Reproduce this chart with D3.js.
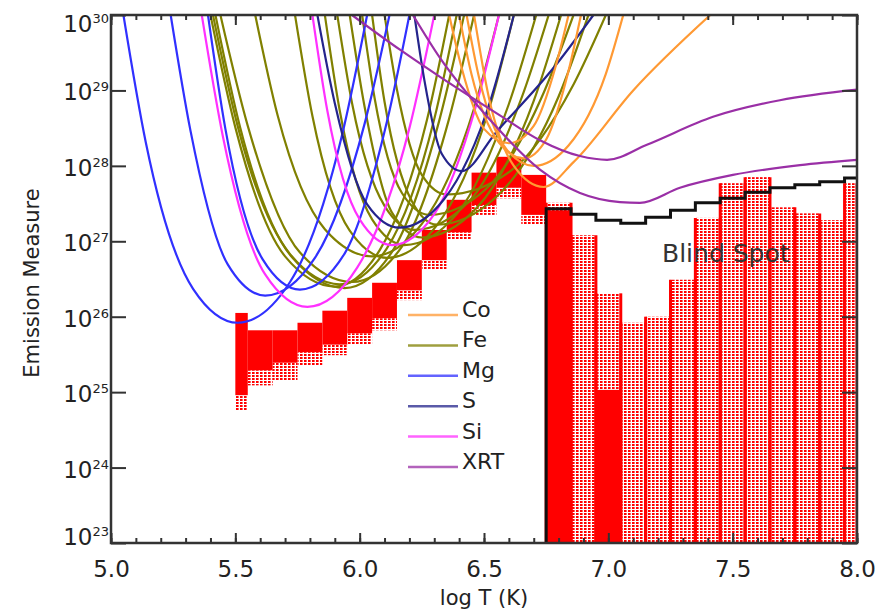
<!DOCTYPE html>
<html>
<head>
<meta charset="utf-8">
<script src="https://cdn.jsdelivr.net/npm/d3@7/dist/d3.min.js"></script>
<style>
  body { margin: 0; background: #fff; }
  text { font-family: "DejaVu Sans", sans-serif; fill: #222; }
</style>
</head>
<body>
<div id="chart"></div>
<script>
// EM loci curves, points are [log T, log EM].
const coCurves = [
  [[6.36,30],[6.41,29.30],[6.50,28.49],[6.60,28.30],[6.70,28.53],[6.79,29.34],[6.84,30]],
  [[6.40,30],[6.45,29.21],[6.56,28.31],[6.66,28.10],[6.75,28.35],[6.84,29.26],[6.89,30]],
  [[6.43,30],[6.48,29.17],[6.59,28.22],[6.70,28.00],[6.84,28.27],[6.99,29.22],[7.06,30]],
  [[6.46,30],[6.52,28.90],[6.62,28.00],[6.74,27.72],[6.86,28.05],[7.10,29.00],[7.41,30]]
];
const feCurves = [
  [[5.40,30],[5.50,28.51],[5.70,26.80],[5.90,26.40],[6.08,26.88],[6.27,28.60],[6.36,30]],
  [[5.41,30],[5.51,28.52],[5.72,26.83],[5.92,26.43],[6.11,26.91],[6.30,28.62],[6.39,30]],
  [[5.42,30],[5.52,28.50],[5.73,26.78],[5.94,26.38],[6.13,26.86],[6.32,28.60],[6.42,30]],
  [[5.44,30],[5.55,28.53],[5.76,26.85],[5.97,26.46],[6.17,26.93],[6.36,28.63],[6.46,30]],
  [[5.58,30],[5.67,28.67],[5.86,27.16],[6.05,26.80],[6.25,27.23],[6.46,28.76],[6.56,30]],
  [[5.74,30],[5.81,28.66],[5.96,27.14],[6.11,26.78],[6.31,27.21],[6.52,28.75],[6.62,30]],
  [[5.86,30],[5.92,28.73],[6.05,27.29],[6.18,26.95],[6.39,27.36],[6.60,28.82],[6.71,30]],
  [[5.91,30],[5.97,28.82],[6.10,27.47],[6.22,27.15],[6.44,27.53],[6.65,28.89],[6.76,30]],
  [[5.96,30],[6.02,28.78],[6.13,27.38],[6.25,27.05],[6.47,27.44],[6.70,28.86],[6.81,30]],
  [[6.01,30],[6.06,28.90],[6.17,27.64],[6.28,27.35],[6.51,27.70],[6.74,28.97],[6.86,30]],
  [[6.05,30],[6.10,28.85],[6.21,27.53],[6.31,27.22],[6.55,27.59],[6.80,28.92],[6.92,30]],
  [[6.10,30],[6.15,29.01],[6.25,27.88],[6.35,27.62],[6.61,27.94],[6.86,29.08],[6.99,30]]
];
const mgCurves = [
  [[5.05,30],[5.14,28.31],[5.33,26.37],[5.51,25.92],[5.72,26.46],[5.93,28.42],[6.03,30]],
  [[5.24,30],[5.32,28.46],[5.47,26.69],[5.62,26.28],[5.82,26.78],[6.02,28.56],[6.12,30]],
  [[5.39,30],[5.46,28.49],[5.61,26.76],[5.76,26.36],[5.94,26.84],[6.11,28.59],[6.20,30]]
];
const sCurves = [
  [[5.83,30],[5.90,28.83],[6.03,27.49],[6.16,27.18],[6.34,27.56],[6.53,28.91],[6.62,30]],
  [[6.22,30],[6.26,29.14],[6.33,28.16],[6.41,27.93],[6.55,28.45],[6.78,29.30],[6.94,30]]
];
const siCurves = [
  [[5.365,30],[5.45,28.39],[5.62,26.56],[5.79,26.13],[5.99,26.65],[6.20,28.50],[6.30,30]],
  [[5.81,30],[5.87,28.73],[6.00,27.29],[6.13,26.95],[6.30,27.36],[6.47,28.82],[6.56,30]]
];
const xrtCurves = [
  [[5.969,30],[6.162,29.54],[6.323,29.18],[6.564,28.67],[6.725,28.34],[6.886,28.13],[6.995,28.08],[7.155,28.28],[7.421,28.65],[7.69,28.87],[8.0,29.01]],
  [[6.214,30],[6.323,29.43],[6.524,28.61],[6.725,27.95],[6.886,27.64],[7.047,27.52],[7.127,27.51],[7.288,27.71],[7.501,27.88],[7.771,28.01],[8.0,28.08]]
];

const legendNames = ['Co', 'Fe', 'Mg', 'S', 'Si', 'XRT'];
const legendColors = ['#ff9933', '#808000', '#3030ff', '#24248c', '#ff30ff', '#9a2fa6'];

// DEM solutions below the blind spot: [logT lo, logT hi, top, bottom, dotted bottom]
const demBins = [
  [5.50, 5.55, 26.05, 24.96, 24.76],
  [5.55, 5.65, 25.82, 25.29, 25.09],
  [5.65, 5.75, 25.82, 25.39, 25.16],
  [5.75, 5.85, 25.92, 25.53, 25.36],
  [5.85, 5.95, 26.08, 25.63, 25.49],
  [5.95, 6.05, 26.25, 25.78, 25.63],
  [6.05, 6.15, 26.45, 25.98, 25.82],
  [6.15, 6.25, 26.75, 26.35, 26.22],
  [6.25, 6.35, 27.15, 26.75, 26.62],
  [6.35, 6.45, 27.55, 27.12, 27.02],
  [6.45, 6.55, 27.91, 27.48, 27.35],
  [6.55, 6.65, 28.12, 27.71, 27.57],
  [6.65, 6.75, 27.88, 27.35, 27.22]
];
// DEM solutions in the blind spot: [logT lo, logT hi, top, solid top or null]
const blindBins = [
  [6.75, 6.85, 27.51, 27.41],
  [6.85, 6.95, 27.08, null],
  [6.95, 7.05, 26.31, 25.03],
  [7.05, 7.15, 25.92, null],
  [7.15, 7.25, 26.00, null],
  [7.25, 7.35, 26.49, null],
  [7.35, 7.45, 27.31, null],
  [7.45, 7.55, 27.77, null],
  [7.55, 7.65, 27.85, null],
  [7.65, 7.75, 27.45, null],
  [7.75, 7.85, 27.37, null],
  [7.85, 7.95, 27.28, null],
  [7.95, 8.00, 27.77, null]
];
// Blind spot limit (step line)
const limitT = [6.75, 6.85, 6.95, 7.05, 7.15, 7.25, 7.35, 7.45, 7.55, 7.65, 7.75, 7.85, 7.95];
const limitEM = [27.43, 27.36, 27.28, 27.24, 27.32, 27.41, 27.51, 27.57, 27.65, 27.71, 27.75, 27.79, 27.84];

const xMajor = [5.0, 5.5, 6.0, 6.5, 7.0, 7.5, 8.0];
const yExps = [23, 24, 25, 26, 27, 28, 29, 30];

const W = 887, H = 612;
const pLeft = 111, pRight = 857, pTop = 15, pBottom = 543;

const svg = d3.select('#chart').append('svg')
    .attr('width', W)
    .attr('height', H);

const x = d3.scaleLinear().domain([5, 8]).range([pLeft, pRight]);
const y = d3.scaleLog().domain([1e23, 1e30]).range([pBottom, pTop]);
const Y = em => y(Math.pow(10, em));

const defs = svg.append('defs');
defs.append('clipPath').attr('id', 'plot')
    .append('rect')
        .attr('x', pLeft).attr('y', pTop)
        .attr('width', pRight - pLeft).attr('height', pBottom - pTop);
// Dotted red fill imitating the overplotted dotted DEM solutions.
const pat = defs.append('pattern')
    .attr('id', 'dots')
    .attr('width', 4).attr('height', 3)
    .attr('patternUnits', 'userSpaceOnUse');
pat.append('rect').attr('width', 2.6).attr('height', 2).attr('fill', '#ff0000');

const plot = svg.append('g').attr('clip-path', 'url(#plot)');

// Red DEM solutions, low temperatures.
const red = plot.append('g');
demBins.forEach(b => {
    red.append('rect')
        .attr('x', x(b[0])).attr('width', x(b[1]) - x(b[0]))
        .attr('y', Y(b[3])).attr('height', Y(b[4]) - Y(b[3]))
        .attr('fill', 'url(#dots)');
    red.append('rect')
        .attr('x', x(b[0])).attr('width', x(b[1]) - x(b[0]))
        .attr('y', Y(b[2])).attr('height', Y(b[3]) - Y(b[2]))
        .attr('fill', '#ff0000');
});

// Red DEM solutions in the blind spot.
blindBins.forEach(b => {
    red.append('rect')
        .attr('x', x(b[0])).attr('width', x(b[1]) - x(b[0]))
        .attr('y', Y(b[2])).attr('height', pBottom - Y(b[2]))
        .attr('fill', 'url(#dots)');
    if (b[3] !== null) {
        red.append('rect')
            .attr('x', x(b[0])).attr('width', x(b[1]) - x(b[0]))
            .attr('y', Y(b[3])).attr('height', pBottom - Y(b[3]))
            .attr('fill', '#ff0000');
    }
    [b[0], b[1]].forEach(t => {
        red.append('line')
            .attr('x1', x(t)).attr('x2', x(t))
            .attr('y1', Y(b[2])).attr('y2', pBottom)
            .attr('stroke', '#ff0000')
            .attr('stroke-width', 3);
    });
});

// EM loci curves.
const line = d3.line()
    .x(d => x(d[0]))
    .y(d => Y(d[1]))
    .curve(d3.curveMonotoneX);

const groups = [
    [feCurves, legendColors[1]],
    [mgCurves, legendColors[2]],
    [siCurves, legendColors[4]],
    [sCurves, legendColors[3]],
    [coCurves, legendColors[0]],
    [xrtCurves, legendColors[5]]
];
groups.forEach(([curves, color]) => {
    plot.append('g')
      .selectAll('path')
      .data(curves)
      .enter()
      .append('path')
        .attr('d', line)
        .attr('fill', 'none')
        .attr('stroke', color)
        .attr('stroke-width', 2.2);
});

// Blind spot limit.
const limitPts = [[6.75, 23]].concat(limitT.map((t, i) => [t, limitEM[i]]), [[8.0, limitEM[limitEM.length - 1]]]);
plot.append('path')
    .datum(limitPts)
    .attr('d', d3.line().x(d => x(d[0])).y(d => Y(d[1])).curve(d3.curveStepAfter))
    .attr('fill', 'none')
    .attr('stroke', '#111')
    .attr('stroke-width', 3);

svg.append('text')
    .attr('x', 662).attr('y', 262)
    .style('font-size', '25px')
    .style('fill', '#333')
    .text('Blind Spot');

// Legend.
const legend = svg.append('g');
legendNames.forEach((name, i) => {
    const ly = 315 + i * 30.4;
    legend.append('line')
        .attr('x1', 408).attr('x2', 458)
        .attr('y1', ly).attr('y2', ly)
        .attr('stroke', legendColors[i])
        .attr('stroke-width', 2.5)
        .attr('opacity', 0.75);
    legend.append('text')
        .attr('x', 462).attr('y', ly + 2)
        .style('font-size', '22px')
        .text(name);
});

// Axes.
const xMinor = d3.range(50, 81).map(v => v / 10);
const styleAxis = g => {
    g.select('.domain').remove();
    g.selectAll('.tick line').attr('stroke', '#333').attr('stroke-width', 2);
    g.selectAll('.tick text').style('font-size', '23px').attr('fill', '#222');
};
svg.append('g')
    .attr('transform', `translate(0,${pBottom})`)
    .call(d3.axisBottom(x).tickValues(xMinor).tickSize(-5).tickFormat(''))
    .call(styleAxis);
svg.append('g')
    .attr('transform', `translate(0,${pBottom})`)
    .call(d3.axisBottom(x).tickValues(xMajor).tickSize(-10).tickPadding(18).tickFormat(d3.format('.1f')))
    .call(styleAxis);
svg.append('g')
    .attr('transform', `translate(0,${pTop})`)
    .call(d3.axisTop(x).tickValues(xMinor).tickSize(-5).tickFormat(''))
    .call(styleAxis);
svg.append('g')
    .attr('transform', `translate(0,${pTop})`)
    .call(d3.axisTop(x).tickValues(xMajor).tickSize(-10).tickFormat(''))
    .call(styleAxis);
svg.append('g')
    .attr('transform', `translate(${pLeft},0)`)
    .call(d3.axisLeft(y).tickValues(yExps.map(e => Math.pow(10, e))).tickSize(-15).tickFormat(''))
    .call(styleAxis);
svg.append('g')
    .attr('transform', `translate(${pRight},0)`)
    .call(d3.axisRight(y).tickValues(yExps.map(e => Math.pow(10, e))).tickSize(-15).tickFormat(''))
    .call(styleAxis);

// Y tick labels as 10^n.
yExps.forEach(e => {
    const off = e === 30 ? 17 : (e === 23 ? 2 : 10);
    const t = svg.append('text')
        .attr('x', 109)
        .attr('y', Y(e) + off)
        .attr('text-anchor', 'end')
        .style('font-size', '23px');
    t.append('tspan').text('10');
    t.append('tspan').attr('dy', -9).style('font-size', '13px').text(e);
});

// Frame.
svg.append('rect')
    .attr('x', pLeft).attr('y', pTop)
    .attr('width', pRight - pLeft).attr('height', pBottom - pTop)
    .attr('fill', 'none')
    .attr('stroke', '#333')
    .attr('stroke-width', 2.5);

// Axis titles.
svg.append('text')
    .attr('x', 484).attr('y', 605)
    .attr('text-anchor', 'middle')
    .style('font-size', '21px')
    .text('log T (K)');
svg.append('text')
    .attr('transform', 'translate(39,283) rotate(-90)')
    .attr('text-anchor', 'middle')
    .style('font-size', '21px')
    .text('Emission Measure');
</script>
</body>
</html>
